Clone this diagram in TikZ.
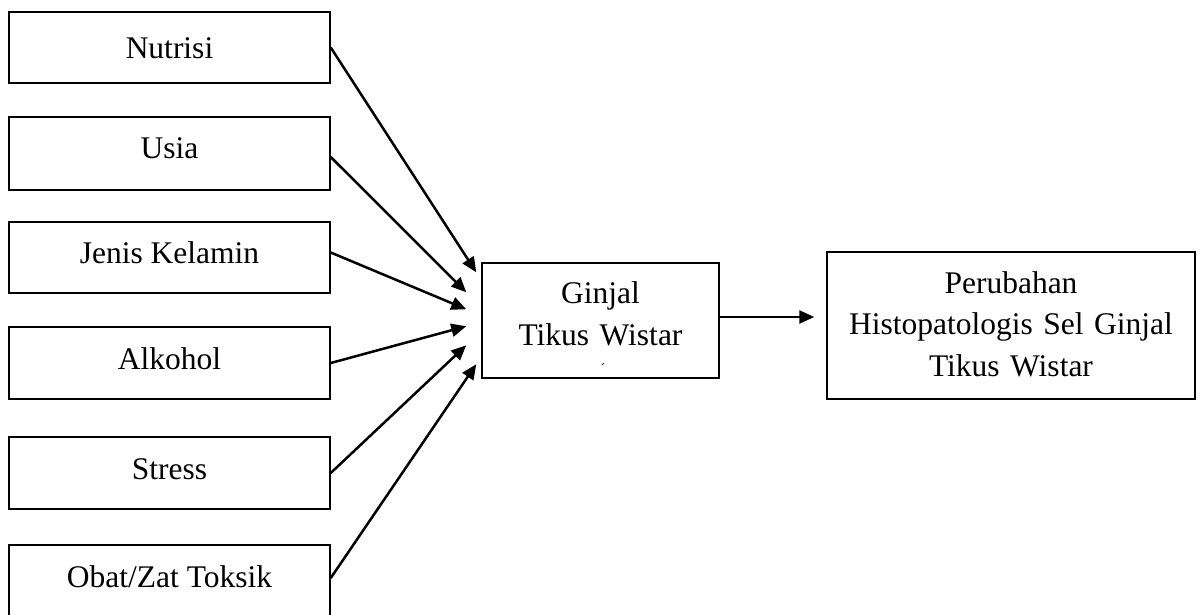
\documentclass[tikz,border=0pt]{standalone}
\usepackage{fontspec}
\setmainfont{Liberation Serif}
\usetikzlibrary{arrows.meta,calc}
\begin{document}
\begin{tikzpicture}[x=1pt,y=-1pt,
  txt/.style={font=\fontsize{31.5}{42}\selectfont},
  lbox/.style={txt, draw, line width=1.5pt, minimum width=321pt, inner xsep=0pt, inner ysep=0pt, text height=42pt, text depth=30pt, anchor=base},
  mbox/.style={txt, draw, line width=1.5pt, inner xsep=0pt, inner ysep=0pt, align=center, anchor=base},
  conn/.style={line width=2.5pt, -{Triangle[length=15pt,width=13pt]}}
]
\useasboundingbox (0,0) rectangle (1199,614);
\node[lbox, text height=46pt, text depth=25pt] (nutrisi) at (169.5,58) {Nutrisi};
\node[lbox, text height=41pt, text depth=32pt] (usia) at (169.5,158) {Usia};
\node[lbox, text height=41pt] (jenis) at (169.5,263) {Jenis Kelamin};
\node[lbox] (alkohol) at (169.5,369) {Alkohol};
\node[lbox] (stress) at (169.5,479) {Stress};
\node[lbox] (obat) at (169.5,587) {Obat/Zat Toksik};
\node[mbox, text width=237pt, text height=40pt, text depth=75pt] (ginjal) at (600.5,303) {Ginjal\\Tikus Wistar};
\node[font=\fontsize{14}{14}\selectfont, inner sep=0pt] (mark) at (603,369) {´};
\node[mbox, text width=368pt, text height=41pt, text depth=106pt, font=\fontsize{31.5}{41.5}\selectfont] (res) at (1011,293) {Perubahan\\Histopatologis Sel Ginjal\\Tikus Wistar};
\coordinate (t1) at ($(ginjal.north west)+(-5,10)$);
\coordinate (t2) at ($(ginjal.north west)+(-15,30)$);
\coordinate (t3) at ($(ginjal.north west)+(-15,47)$);
\coordinate (t4) at ($(ginjal.north west)+(-15,64)$);
\coordinate (t5) at ($(ginjal.north west)+(-15,83)$);
\coordinate (t6) at ($(ginjal.north west)+(-5,102)$);
\draw[conn] (nutrisi.east) -- (t1);
\draw[conn] ($(usia.east)+(0,3.5)$) -- (t2);
\draw[conn] ($(jenis.east)+(0,-5)$) -- (t3);
\draw[conn] (alkohol.east) -- (t4);
\draw[conn] (stress.east) -- (t5);
\draw[conn] ($(obat.east)+(0,-3)$) -- (t6);
\coordinate (r0) at ($(ginjal.east)+(0,-3.5)$);
\coordinate (r1) at ($(r0 -| res.west)+(-12,0)$);
\draw[conn] (r0) -- (r1);
\end{tikzpicture}
\end{document}
